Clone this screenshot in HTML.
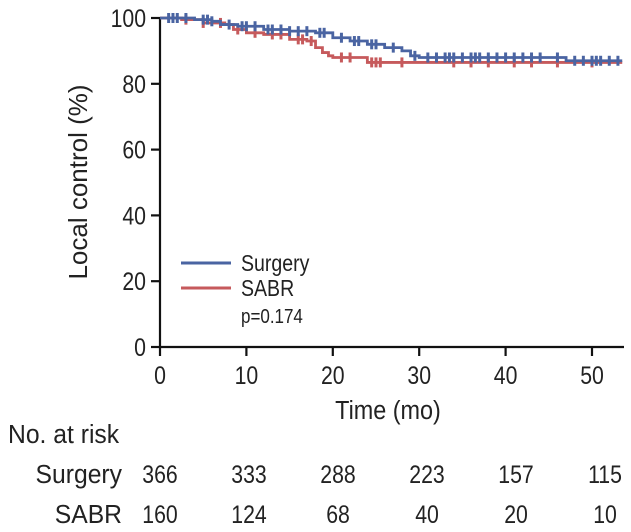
<!DOCTYPE html>
<html><head><meta charset="utf-8"><style>
body{margin:0;background:#fff}
svg{display:block;font-family:"Liberation Sans",sans-serif;fill:#222}
</style></head><body>
<svg id="c" width="631" height="532" viewBox="0 0 631 532"></svg>
<script>
const xTicks=[0,10,20,30,40,50];
const yTicks=[0,20,40,60,80,100];
const surgT=[0,2,4,6,7,9,12,15,18,20,22,24,26,28,29,30,45,47,53.5];
const surgS=[100,100,99.5,99,98,97.5,96.5,96,95.5,94,93,92,91,90,88.5,88,88,87,87];
const sabrT=[0,2.5,5,7.5,8.5,10,12,15,17,18,18.8,19.5,20,23,24,53.5];
const sabrS=[100,99.5,98.5,98,96.5,95.5,95,93.5,93,91,89.5,88.5,88,88,86.5,86.5];
const surgCens=[1,1.5,2,3,5,5.5,6,8,9.5,10,11,12.5,13,14,15,16,17,18.5,19,21,22.5,23,24.5,25,27,29.5,31,32,33,33.5,34,35,36,36.5,37,38,39,40,41,42,43,44,46,48,49,50,50.5,51,52,53];
const sabrCens=[3,5,7,9,11,13,14,16,16.5,17.5,21,22,24.5,25,25.5,28,34,36,38,41,43,46,50];
const riskX=[0,10,20,30,40,50];
const riskSurg=[366,333,288,223,157,115];
const riskSabr=[160,124,68,40,20,10];
const X=t=>160+t*8.64, Y=v=>347-v*3.29;
const svg=document.getElementById('c'),NS='http://www.w3.org/2000/svg';
function mk(tag,at,txt){const e=document.createElementNS(NS,tag);for(const k in at)e.setAttribute(k,at[k]);if(txt!==undefined)e.textContent=txt;svg.appendChild(e);return e;}
function tx(x,y,s,size,anchor,rot,sx){return mk('text',{x:0,y:0,'font-size':size,'text-anchor':anchor||'start',transform:`translate(${x},${y})`+(rot?' rotate(-90)':'')+` scale(${sx||0.85},1)`},s);}
function step(T,S){let d=`M${X(T[0])},${Y(S[0])}`;for(let i=1;i<T.length;i++){d+=`H${X(T[i])}V${Y(S[i])}`;}return d;}
function at(T,S,t){let v=S[0];for(let i=0;i<T.length;i++)if(T[i]<=t)v=S[i];return v;}
let a=mk('path',{d:`M160,17V347H624`,stroke:'#111','stroke-width':2.2,fill:'none'});

xTicks.forEach(t=>{let l=mk('line',{x1:X(t),x2:X(t),y1:347,y2:356,stroke:'#111','stroke-width':2.2});

let e=tx(X(t),384,t,25,'middle');
});
yTicks.forEach(v=>{let l=mk('line',{x1:151,x2:160,y1:Y(v),y2:Y(v),stroke:'#111','stroke-width':2.2});

let e=tx(146,Y(v)+9,v,25,'end');
});
let xt=tx(388,419,'Time (mo)',26,'middle',false,0.9);

let yt=tx(87,182,'Local control (%)',26,'middle',true,1.0);

[[sabrT,sabrS,sabrCens,'#c65a5c','sabr'],[surgT,surgS,surgCens,'#4a64a2','surgery']].forEach(([T,S,C,col,n])=>{
let p=mk('path',{d:step(T,S),stroke:col,'stroke-width':2.8,fill:'none'});

C.forEach(t=>{let v=at(T,S,t);let m=mk('line',{x1:X(t),x2:X(t),y1:Y(v)-5,y2:Y(v)+5,stroke:col,'stroke-width':3});
});});
let l1=mk('line',{x1:181,x2:231,y1:263,y2:263,stroke:'#4a64a2','stroke-width':3});

let t1=tx(241,271,'Surgery',23);

let l2=mk('line',{x1:181,x2:231,y1:288,y2:288,stroke:'#c65a5c','stroke-width':3});

let t2=tx(241,296,'SABR',23);

let t3=tx(241,323,'p=0.174',20);

let r0=tx(8,443,'No. at risk',26,'start',false,0.95);

let r1=tx(122,483,'Surgery',26,'end',false,0.95);

let r2=tx(122,523,'SABR',26,'end',false,0.95);

riskX.forEach((t,i)=>{const x=160+t*8.9;
let a=tx(x,483,riskSurg[i],25,'middle');

let b=tx(x,523,riskSabr[i],25,'middle');
});
</script>
</body></html>
